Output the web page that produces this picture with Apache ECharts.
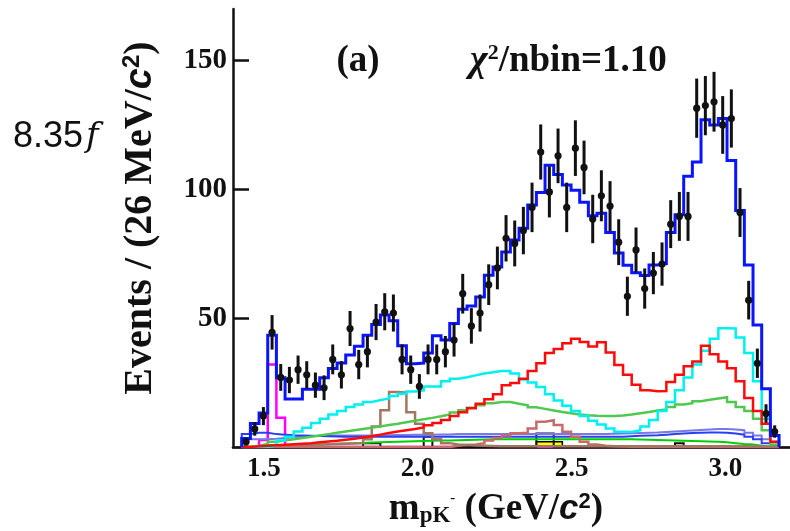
<!DOCTYPE html>
<html>
<head>
<meta charset="utf-8">
<script src="https://cdn.jsdelivr.net/npm/echarts@6/dist/echarts.min.js"></script>
<style>
  html, body { margin: 0; padding: 0; background: #fff; }
  #chart { width: 790px; height: 531px; }
</style>
</head>
<body>
<div id="chart"></div>
<script>
// Binning of the m(pK-) spectrum (GeV/c^2)
const binLow = 1.4284;
const binWidth = 0.02816;

// Visible mass window and tick labels
const xMin = 1.4;
const xMax = 3.21;
const xTickValues = [1.5, 2.0, 2.5, 3.0];
const yTickStep = 50;

// Observed events per bin and their uncertainties
const dataCounts = [2, 7, 12, 44.5, 27, 26, 30, 28, 24, 23, 34, 28, 46, 32, 37, 48.5,
  52.5, 52, 34, 30, 23.5, 34, 34, 37, 41.5, 59.5, 47, 52, 63, 69.5, 81, 79,
  84, 93, 114.5, 99, 113, 93, 116, 108.5, 88.5, 97.5, 93.5, 79.5, 58.5, 76.5, 61.5, 67.5,
  71, 86.5, 89.5, 89.5, 131.5, 132.5, 134, 125, 127.5, 91, 57, 32.5, 13, 6];
const dataErrors = [1.4, 2.6, 3.5, 6.7, 5.2, 5.1, 5.5, 5.3, 4.9, 4.8, 5.8, 5.3, 6.8, 5.7, 6.1, 7.0,
  7.2, 7.2, 5.8, 5.5, 4.8, 5.8, 5.8, 6.1, 6.4, 7.7, 6.9, 7.2, 7.9, 8.3, 9.0, 8.9,
  9.2, 9.6, 10.7, 9.9, 10.6, 9.6, 10.8, 10.4, 9.4, 9.9, 9.7, 8.9, 7.6, 8.7, 7.8, 8.2,
  8.4, 9.3, 9.5, 9.5, 11.5, 11.5, 11.6, 11.2, 11.3, 9.5, 7.5, 5.7, 3.6, 2.4];

// Total fit
const fitTotal = [3.3, 9.1, 13.2, 43.4, 26.9, 18.6, 18.6, 22.4, 22.4, 26.9, 30.5, 32.6, 35.7, 39.1, 43.4, 47.5,
  51.2, 49, 39.3, 32.3, 32.6, 36.5, 43.2, 41.5, 47.9, 53.5, 54.7, 58.2, 66.7, 69.9, 75.7, 80.3,
  84.9, 93.9, 98.8, 109.4, 105.8, 101.7, 99.7, 95, 89.8, 90.7, 83.3, 75.3, 70.5, 67.6, 66.6, 70.6,
  71.1, 83.3, 90.1, 105.1, 110.6, 127, 125, 127.5, 111.2, 91.8, 70.6, 47.4, 22.6, 4.5];

// Fit components
const compCyan = [0, 0, 0, 0.5, 2.5, 4, 6, 7.5, 9.3, 11, 12.6, 14, 15.5, 16.5, 17.5, 18.2,
  18.8, 19.8, 20.7, 21.5, 22, 23.5, 23.5, 25.5, 26.5, 27.1, 27.8, 28.5, 29, 29.5, 29.5, 28.5,
  26.2, 25, 23.3, 20.5, 18, 16, 14, 12, 10.2, 8.7, 7.2, 5.9, 5.8, 6.5, 8, 10.5,
  14, 17.5, 22, 27, 32, 37.4, 42, 46.1, 46, 42.5, 36.5, 25.5, 11, 4.6];
const compRed = [0, 0.3, 0.5, 0.7, 0.9, 1.1, 1.3, 1.5, 1.8, 2.1, 2.4, 2.8, 3.2, 3.7, 4.2, 4.8,
  5.4, 6, 6.5, 7, 7.6, 8.4, 9.3, 10.5, 12, 13.5, 15, 16.8, 18.5, 20.5, 24, 24.8,
  26.5, 29.5, 32.5, 36.5, 38, 40.3, 42, 40.8, 39, 40.7, 36.7, 31.8, 28, 24.2, 22, 21.6,
  21.7, 25.2, 28, 31.3, 33.2, 39.3, 36, 33.2, 30.6, 25.5, 19, 14, 9, 2];
const compGreen = [0, 0.5, 1.2, 2, 2.5, 3, 3.5, 4, 4.5, 5, 5.5, 6, 6.5, 7, 7.5, 8,
  8.5, 9, 9.6, 10.2, 10.8, 11.3, 11.9, 12.6, 13.4, 14.3, 15.2, 16.2, 17, 17.5, 17.5, 16.8,
  16.2, 15.4, 14.8, 14.2, 13.6, 13.1, 12.6, 12.3, 12.1, 12, 12, 12.2, 12.6, 13.1, 13.6, 14.2,
  14.6, 15.5, 16.5, 17, 17.8, 18.3, 18.8, 19.3, 17.5, 15.5, 14, 11, 6.5, 1];
const compMagenta = [0, 0, 2.7, 32, 11.4, 0, 0, 0, 0, 0, 0, 0, 0, 0, 0, 0,
  0, 0, 0, 0, 0, 0, 0, 0, 0, 0, 0, 0, 0, 0, 0, 0,
  0, 0, 0, 0, 0, 0, 0, 0, 0, 0, 0, 0, 0, 0, 0, 0,
  0, 0, 0, 0, 0, 0, 0, 0, 0, 0, 0, 0, 0, 0];
const compBrown = [0, 0, 0.3, 0.5, 0.6, 0.7, 0.8, 0.9, 1, 1.1, 1.2, 1.3, 1.4, 1.5, 3, 8,
  14.3, 21.3, 21.1, 13.5, 9, 5.3, 3, 1.5, 1, 0.8, 0.6, 0.5, 0.4, 0.3, 0.3, 0.3,
  0.3, 0.3, 0.3, 0.3, 0.3, 0.3, 0.3, 0.3, 0.3, 0.3, 0.3, 0.3, 0.3, 0.3, 0.3, 0.3,
  0.3, 0.3, 0.3, 0.3, 0.3, 0.3, 0.3, 0.3, 0.3, 0.3, 0.3, 0.2, 0.1, 0];
const compRosy = [0, 0, 0, 0, 0, 0, 0, 0, 0, 0, 0, 0, 0, 0, 0, 0,
  0, 0, 0, 0, 0, 0, 0, 0, 0.5, 0.8, 1, 1.5, 2.5, 3.5, 4.5, 5.3,
  5.5, 7.2, 9.8, 10.4, 8.5, 5.9, 4, 2, 1, 0.5, 0.3, 0.2, 0.1, 0, 0, 0,
  0, 0, 0, 0, 0, 0, 0, 0, 0, 0, 0, 0, 0, 0];
const compBlue = [5, 5.5, 5.5, 5, 4.8, 4.6, 4.5, 4.4, 4.3, 4.2, 4.1, 4, 4, 4, 4, 4,
  4, 4, 4, 4, 4, 4, 4, 4, 4, 4, 4, 4, 4, 4, 4, 4,
  4, 4, 4, 4, 4, 4, 4, 4, 4, 4, 4, 4, 4.2, 4.4, 4.5, 4.6,
  4.8, 5, 5.2, 5.4, 5.5, 5.6, 5.6, 5.5, 5.2, 4.8, 4, 3, 1.5, 0.5];
const compSlate = [3, 3, 3, 3.2, 3.5, 3.8, 4, 4.2, 4.4, 4.5, 4.5, 4.5, 4.5, 4.5, 4.5, 4.6,
  4.6, 4.7, 4.7, 4.8, 4.8, 4.8, 4.9, 4.9, 5, 5, 5, 5, 5, 5, 5, 5,
  5, 5, 5, 5, 5, 5, 5, 5, 5, 5, 5.1, 5.2, 5.3, 5.4, 5.5, 5.6,
  5.8, 6, 6.2, 6.4, 6.6, 6.8, 7, 7, 6.8, 6.5, 5.5, 4.5, 3, 2];
const compLime = [0, 0, 0, 0.8, 0.8, 0.8, 0.9, 1, 1, 1.1, 1.3, 1.4, 1.5, 1.6, 1.7, 1.8,
  1.9, 2, 2.1, 2.2, 2.3, 2.4, 2.5, 2.5, 2.6, 2.7, 2.8, 2.9, 3, 3, 3, 3,
  3, 3, 3, 3, 3, 3, 3, 3, 3, 3, 3, 3, 3, 2.9, 2.8, 2.7,
  2.6, 2.5, 2.4, 2.3, 2.2, 2.1, 2, 1.8, 1.5, 1.2, 1, 0.5, 0, 0];
const compYellow = [0, 0, 0, 0, 0, 0, 0, 0, 0, 0, 0, 0, 0, 0, 0, 0,
  0, 0, 0, 0, 0, 0, 0, 0, 0, 0, 0, 0, 0, 0, 0, 0,
  0, 0, 2, 2, 2, 0, 0, 0, 0, 0, 0, 0, 0, 0, 0, 0,
  0, 0, 0, 0, 0, 0, 0, 0, 0, 0, 0, 0, 0, 0];
const compBlack = [0, 0, 0, 0, 0, 0, 0, 0, 0, 0, 0, 0, 0, 0, 1.5, 1.5,
  0, 0, 0, 0, 0, 4, 0, 0, 0, 0, 0, 0, 0, 0, 0, 0,
  0, 0, 5.2, 5.2, 0, 0, 0, 0, 0, 0, 0, 0, 0, 0, 0, 0,
  0, 0, 1.5, 0, 0, 0, 0, 0, 0, 0, 0, 0, 0, 0];

// Turn per-bin contents into a closed step outline (left edges, step 'end')
function stepOutline(vals) {
  const pts = [[binLow, 0]];
  vals.forEach((v, i) => pts.push([binLow + i * binWidth, v]));
  pts.push([binLow + vals.length * binWidth, 0]);
  return pts;
}

function histSeries(vals, color, width, extra) {
  return Object.assign({
    type: 'line',
    step: 'end',
    data: stepOutline(vals),
    symbol: 'none',
    silent: true,
    lineStyle: { color: color, width: width, join: 'miter' },
    xAxisIndex: 0,
    yAxisIndex: 0,
    animation: false
  }, extra || {});
}

const serif = 'Liberation Serif, Times New Roman, serif';
const sans = 'Liberation Sans, Arial, sans-serif';

const chart = echarts.init(document.getElementById('chart'), null, { renderer: 'canvas' });

chart.setOption({
  animation: false,
  backgroundColor: '#fff',
  grid: { left: 233, top: 9, right: 0, height: 438, containLabel: false },
  xAxis: [{
    type: 'value',
    min: xMin,
    max: xMax,
    position: 'bottom',
    axisLine: { show: true, onZero: false, lineStyle: { color: '#c4607c', width: 2.5 } },
    axisTick: { show: false },
    splitLine: { show: false },
    axisLabel: {
      customValues: xTickValues,
      formatter: v => v.toFixed(1),
      color: '#111',
      fontFamily: serif,
      fontWeight: 'bold',
      fontSize: 27,
      margin: 9
    }
  }, {
    type: 'value',
    min: xMin,
    max: xMax,
    position: 'top',
    axisLine: { show: true, lineStyle: { color: '#111', width: 2.5 } },
    axisTick: { show: false },
    axisLabel: { show: false },
    splitLine: { show: false }
  }],
  yAxis: [{
    type: 'value',
    min: 0,
    max: 170,
    interval: yTickStep,
    axisLine: { show: true, onZero: false, lineStyle: { color: '#111', width: 2.5 } },
    axisTick: { show: true, inside: true, length: 16, lineStyle: { color: '#111', width: 2.5 } },
    splitLine: { show: false },
    axisLabel: {
      showMinLabel: false,
      showMaxLabel: false,
      color: '#111',
      fontFamily: serif,
      fontWeight: 'bold',
      fontSize: 29,
      margin: 6
    }
  }],
  series: [
    histSeries(compMagenta, '#ff00ff', 2.5),
    histSeries(compYellow, '#000', 1.5, { areaStyle: { color: '#ffff00', opacity: 1 } }),
    histSeries(compBlack, '#111', 2),
    histSeries(compLime, '#00d000', 2),
    histSeries(compSlate, '#7878e8', 2),
    histSeries(compBlue, '#2a40f0', 2),
    histSeries(compRosy, '#c86a6a', 2.5),
    histSeries(compBrown, '#a07862', 2.5),
    histSeries(compGreen, '#50c850', 2.5),
    histSeries(compCyan, '#00f0f0', 2.5),
    histSeries(compRed, '#ff0a0a', 2.5),
    histSeries(fitTotal, '#0a14ff', 3),
    {
      type: 'custom',
      data: dataCounts.map((v, i) => [binLow + (i + 0.5) * binWidth, v, dataErrors[i]]),
      encode: { x: 0, y: 1 },
      silent: true,
      animation: false,
      z: 5,
      renderItem: function (params, api) {
        const x = api.value(0), y = api.value(1), e = api.value(2);
        const c = api.coord([x, y]);
        const lo = api.coord([x, Math.max(0, y - e)]);
        const hi = api.coord([x, y + e]);
        return {
          type: 'group',
          children: [
            { type: 'line', shape: { x1: c[0], y1: lo[1], x2: c[0], y2: hi[1] }, style: { stroke: '#111', lineWidth: 3 } },
            { type: 'circle', shape: { cx: c[0], cy: c[1], r: 3.6 }, style: { fill: '#111' } }
          ]
        };
      }
    }
  ],
  graphic: [
    {
      type: 'text', left: 13, top: 119, silent: true,
      style: {
        text: '{n|8.35}{f|f}',
        rich: {
          n: { fontFamily: sans, fontSize: 36, fill: '#111' },
          f: { fontFamily: 'DejaVu Serif, serif', fontStyle: 'italic', fontSize: 34, fill: '#111', padding: [0, 0, 0, 3] }
        }
      }
    },
    {
      type: 'text', x: 358, y: 61, silent: true,
      style: {
        text: '(a)', fontFamily: serif, fontWeight: 'bold', fontSize: 37, fill: '#111',
        align: 'center', verticalAlign: 'middle'
      }
    },
    {
      type: 'text', x: 470, y: 61, silent: true,
      style: {
        text: '{chi|χ}{sup|2}{t|/nbin=1.10}',
        align: 'left', verticalAlign: 'middle',
        rich: {
          chi: { fontFamily: serif, fontStyle: 'italic', fontWeight: 'bold', fontSize: 38, fill: '#111' },
          sup: { fontFamily: serif, fontWeight: 'bold', fontSize: 22, fill: '#111', verticalAlign: 'top', padding: [0, 0, 16, 0] },
          t: { fontFamily: serif, fontWeight: 'bold', fontSize: 37, fill: '#111' }
        }
      }
    },
    {
      type: 'text', x: 141, y: 218, rotation: Math.PI / 2, silent: true,
      style: {
        text: '{t|Events / (26 MeV/}{c|c}{sup|2}{t|)}',
        align: 'center', verticalAlign: 'middle',
        rich: {
          t: { fontFamily: serif, fontWeight: 'bold', fontSize: 40, fill: '#111' },
          c: { fontFamily: sans, fontWeight: 'bold', fontStyle: 'italic', fontSize: 38, fill: '#111' },
          sup: { fontFamily: sans, fontWeight: 'bold', fontSize: 24, fill: '#111', verticalAlign: 'top', padding: [0, 0, 17, 0] }
        }
      }
    },
    {
      type: 'text', x: 496, y: 509, silent: true,
      style: {
        text: '{t|m}{sub|pK}{sup|-}{t| (GeV/}{c|c}{s2|2}{t|)}',
        align: 'center', verticalAlign: 'middle',
        rich: {
          t: { fontFamily: serif, fontWeight: 'bold', fontSize: 37, fill: '#111' },
          sub: { fontFamily: serif, fontWeight: 'bold', fontSize: 23, fill: '#111', verticalAlign: 'bottom', padding: [13, 0, 0, 0] },
          sup: { fontFamily: serif, fontWeight: 'bold', fontSize: 15, fill: '#111', verticalAlign: 'top', padding: [0, 0, 15, 0] },
          c: { fontFamily: sans, fontWeight: 'bold', fontStyle: 'italic', fontSize: 35, fill: '#111' },
          s2: { fontFamily: sans, fontWeight: 'bold', fontSize: 22, fill: '#111', verticalAlign: 'top', padding: [0, 0, 15, 0] }
        }
      }
    }
  ]
});
</script>
</body>
</html>
